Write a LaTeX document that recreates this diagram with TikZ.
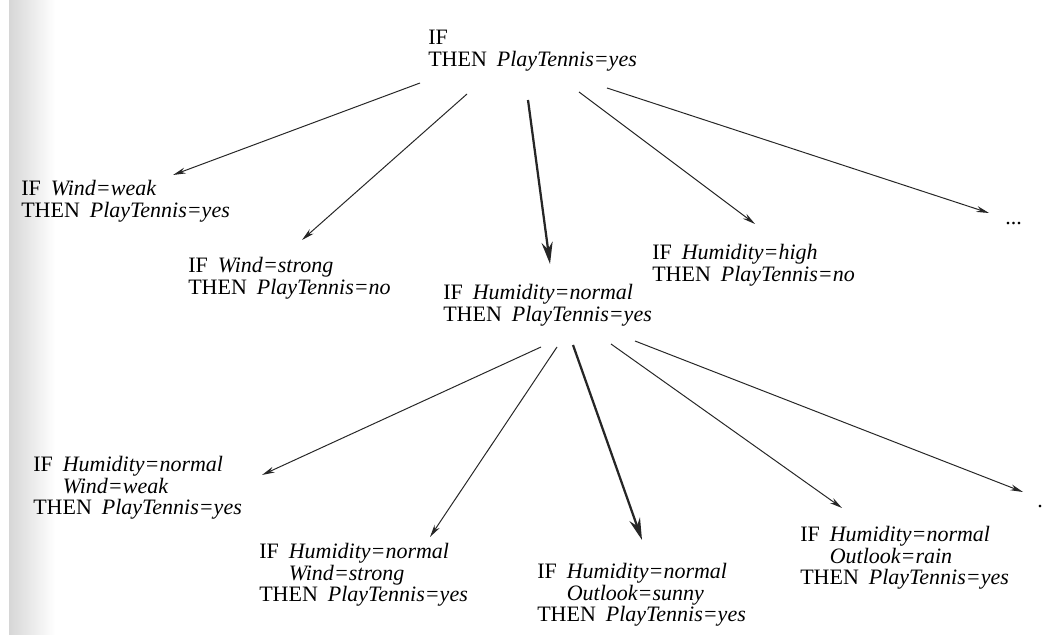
\documentclass[tikz,border=0pt]{standalone}
\usepackage{fontspec}
\setmainfont{Liberation Serif}
\usetikzlibrary{arrows.meta}

\newcommand{\kw}[1]{#1\hspace{0.45em}}
\newcommand{\ind}{\hphantom{\kw{IF}}}

\begin{document}
\begin{tikzpicture}[x=0.025cm,y=-0.025cm,
	rule/.style={anchor=north west,inner sep=0pt,align=left,font=\fontsize{15.65}{15.3}\selectfont},
	arr/.style={draw=black!85,line width=0.7pt,-{Stealth[length=3.2mm,width=1.5mm]}},
	bold arr/.style={draw=black!85,line width=1.6pt,-{Stealth[length=5.5mm,width=2.8mm]}}]
		\useasboundingbox (0,0) rectangle (1043,635);
		\fill[white] (0,0) rectangle (1043,635);
		\shade[left color=black!16,right color=white] (9,0) rectangle (55,635);
		
		% first level
		\node[rule] (top) at (428,30) {IF\\\kw{THEN}\textit{PlayTennis=yes}};
		\node[rule] (wweak) at (21,180) {\kw{IF}\textit{Wind=weak}\\\kw{THEN}\textit{PlayTennis=yes}};
		\node[rule] (wstrong) at (188,257) {\kw{IF}\textit{Wind=strong}\\\kw{THEN}\textit{PlayTennis=no}};
		\node[rule] (hnormal) at (443,284) {\kw{IF}\textit{Humidity=normal}\\\kw{THEN}\textit{PlayTennis=yes}};
		\node[rule] (hhigh) at (652,244) {\kw{IF}\textit{Humidity=high}\\\kw{THEN}\textit{PlayTennis=no}};
		\node[rule,anchor=base west] (more1) at (1005,225) {...};
		\draw[arr] ([shift={(-8,53)}]top.north west) -- ([shift={(152,-5)}]wweak.north west);
		\draw[arr] ([shift={(39,64)}]top.north west) -- ([shift={(114,-17)}]wstrong.north west);
		\draw[bold arr] ([shift={(100,70)}]top.north west) -- ([shift={(107,-20)}]hnormal.north west);
		\draw[arr] ([shift={(151,62)}]top.north west) -- ([shift={(103,-20)}]hhigh.north west);
		\draw[arr] ([shift={(179,58)}]top.north west) -- ([shift={(-16,-12)}]more1.base west);
		
		% second level
		\node[rule] (hweak) at (33,456) {\kw{IF}\textit{Humidity=normal}\\\ind\textit{Wind=weak}\\\kw{THEN}\textit{PlayTennis=yes}};
		\node[rule] (hstrong) at (259,543) {\kw{IF}\textit{Humidity=normal}\\\ind\textit{Wind=strong}\\\kw{THEN}\textit{PlayTennis=yes}};
		\node[rule] (hsunny) at (537,563) {\kw{IF}\textit{Humidity=normal}\\\ind\textit{Outlook=sunny}\\\kw{THEN}\textit{PlayTennis=yes}};
		\node[rule] (hrain) at (800,526) {\kw{IF}\textit{Humidity=normal}\\\ind\textit{Outlook=rain}\\\kw{THEN}\textit{PlayTennis=yes}};
		\node[rule,anchor=base west] (more2) at (1037,507) {.};
		\draw[arr] ([shift={(98,63)}]hnormal.north west) -- ([shift={(229,19)}]hweak.north west);
		\draw[arr] ([shift={(114,63)}]hnormal.north west) -- ([shift={(171,-6)}]hstrong.north west);
		\draw[bold arr] ([shift={(130,61)}]hnormal.north west) -- ([shift={(105,-23)}]hsunny.north west);
		\draw[arr] ([shift={(168,60)}]hnormal.north west) -- ([shift={(42,-18)}]hrain.north west);
		\draw[arr] ([shift={(192,57)}]hnormal.north west) -- ([shift={(-14,-15)}]more2.base west);
\end{tikzpicture}
\end{document}
